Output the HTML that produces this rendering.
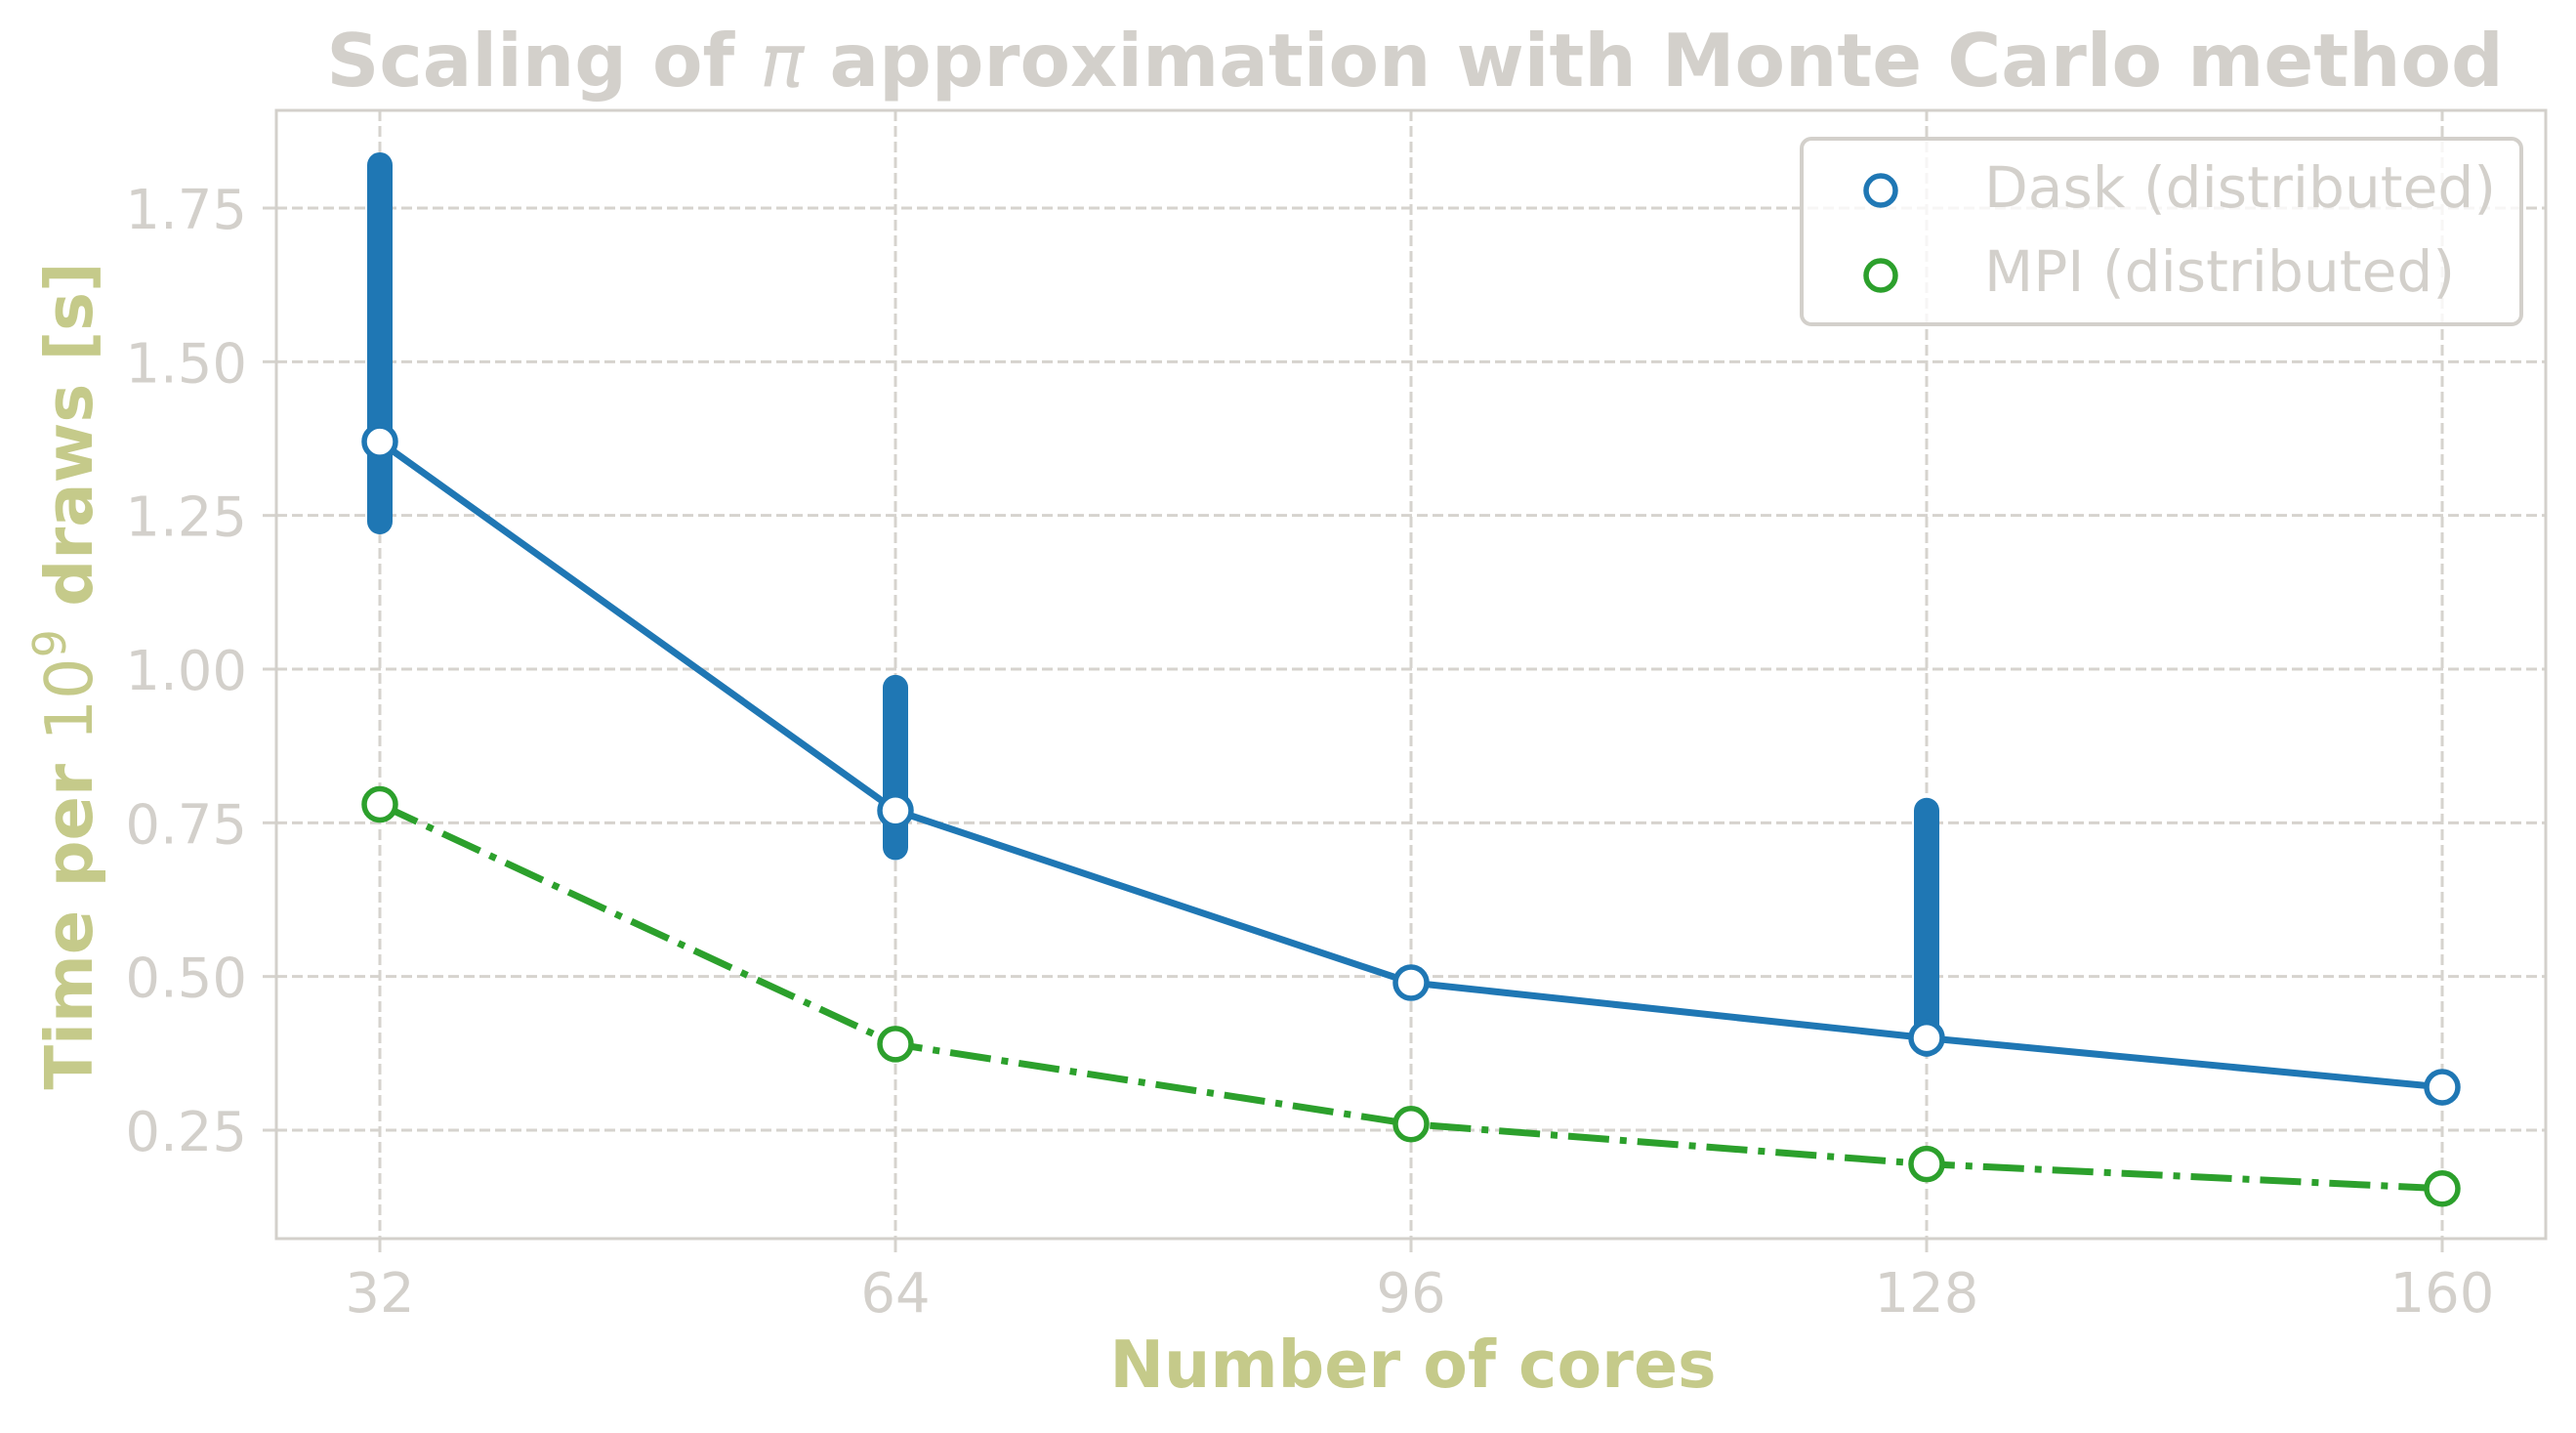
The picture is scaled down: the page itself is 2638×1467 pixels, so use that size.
<!DOCTYPE html>
<html><head><meta charset="utf-8"><style>
html,body{margin:0;padding:0;background:#fff;}
svg{display:block;font-family:"DejaVu Sans","Liberation Sans",sans-serif;}
</style></head><body>
<svg id="chart" width="2638" height="1467" viewBox="0 0 2638 1467" xmlns="http://www.w3.org/2000/svg">
<g id="grid"></g>
<g id="series"></g>
<g id="axes"></g>
<text x="1449" y="88" text-anchor="middle" font-size="75" font-weight="bold" fill="#d3d0cb">Scaling of <tspan font-style="italic" font-weight="normal">π</tspan> approximation with Monte Carlo method</text>
<text x="1447" y="1420" text-anchor="middle" font-size="66.5" font-weight="bold" fill="#c5ca8a">Number of cores</text>
<text transform="translate(94,692) rotate(-90)" text-anchor="middle" font-size="67" font-weight="bold" fill="#c5ca8a">Time per <tspan font-weight="normal">10</tspan><tspan font-weight="normal" font-size="46" dy="-27">9</tspan><tspan dy="27"> draws [s]</tspan></text>
<g>
<rect x="1845" y="142" width="737" height="190" rx="10" fill="rgba(255,255,255,0.8)" stroke="#d3d0cb" stroke-width="4"/>
<circle cx="1926" cy="195" r="15" fill="#fff" stroke="#1f77b4" stroke-width="5.5"/>
<text x="2032" y="212" font-size="58.2" fill="#d3d0cb">Dask (distributed)</text>
<circle cx="1926" cy="282" r="15" fill="#fff" stroke="#2ca02c" stroke-width="5.5"/>
<text x="2032" y="298" font-size="58.2" fill="#d3d0cb">MPI (distributed)</text>
</g>
</svg>
<script>
const cores = [32, 64, 96, 128, 160];
const daskMean = [1.37, 0.77, 0.49, 0.40, 0.32];
const daskLow = [1.24, 0.71, 0.49, 0.39, 0.32];
const daskHigh = [1.82, 0.97, 0.49, 0.77, 0.32];
const mpiMean = [0.78, 0.39, 0.26, 0.195, 0.155];
const yTicks = [0.25, 0.50, 0.75, 1.00, 1.25, 1.50, 1.75];
const yTickLabels = ["0.25", "0.50", "0.75", "1.00", "1.25", "1.50", "1.75"];
const xTickLabels = ["32", "64", "96", "128", "160"];

const L=283,R=2607,T=113,B=1268;
const xs = c => 389 + (c-32)*(2501-389)/128;
const ys = v => 1157 - (v-0.25)*(1157-213)/1.5;
const NS="http://www.w3.org/2000/svg";
function mk(parent,tag,attrs){const e=document.createElementNS(NS,tag);for(const k in attrs)e.setAttribute(k,attrs[k]);parent.appendChild(e);return e;}
const grid=document.getElementById('grid'), ser=document.getElementById('series'), axes=document.getElementById('axes');
const gc="#d6d3ce";
yTicks.forEach((v,i)=>{
  const g=mk(grid,'line',{x1:L,x2:R,y1:ys(v),y2:ys(v),stroke:gc,'stroke-width':3,'stroke-dasharray':'11 5'});
  
  
  const t=mk(axes,'line',{x1:L-14,x2:L,y1:ys(v),y2:ys(v),stroke:gc,'stroke-width':3});
  
  
  const l=mk(axes,'text',{x:253,y:ys(v)+21,'text-anchor':'end','font-size':56,fill:'#d3d0cb'});
  l.textContent=yTickLabels[i];
  
  
});
cores.forEach((c,i)=>{
  const g=mk(grid,'line',{x1:xs(c),x2:xs(c),y1:T,y2:B,stroke:gc,'stroke-width':3,'stroke-dasharray':'11 5'});
  
  
  const t=mk(axes,'line',{x1:xs(c),x2:xs(c),y1:B,y2:B+14,stroke:gc,'stroke-width':3});
  
  
  const l=mk(axes,'text',{x:xs(c),y:1343,'text-anchor':'middle','font-size':56,fill:'#d3d0cb'});
  l.textContent=xTickLabels[i];
  
  
});
const frame=mk(axes,'rect',{x:L,y:T,width:R-L,height:B-T,fill:'none',stroke:'#d3d0cb','stroke-width':3});



cores.forEach((c,i)=>{
  if(daskHigh[i]-daskLow[i]>0.001){
    const e=mk(ser,'line',{x1:xs(c),x2:xs(c),y1:ys(daskLow[i]),y2:ys(daskHigh[i]),stroke:'#1f77b4','stroke-width':26,'stroke-linecap':'round'});
    
    
  }
});
const mpiLine=mk(ser,'polyline',{points:cores.map((c,i)=>xs(c)+','+ys(mpiMean[i])).join(' '),fill:'none',stroke:'#2ca02c','stroke-width':7,'stroke-dasharray':'42 11 7 11'});


const daskLine=mk(ser,'polyline',{points:cores.map((c,i)=>xs(c)+','+ys(daskMean[i])).join(' '),fill:'none',stroke:'#1f77b4','stroke-width':7});


cores.forEach((c,i)=>{
  const p=mk(ser,'circle',{cx:xs(c),cy:ys(mpiMean[i]),r:16,fill:'#fff',stroke:'#2ca02c','stroke-width':5.5});
  
  
  const q=mk(ser,'circle',{cx:xs(c),cy:ys(daskMean[i]),r:16,fill:'#fff',stroke:'#1f77b4','stroke-width':5.5});
  
  
});
</script>
</body></html>
